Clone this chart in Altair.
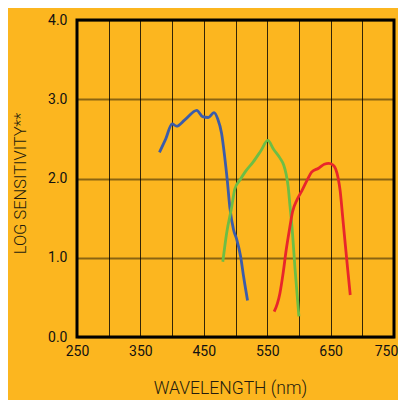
import altair as alt
import pandas as pd

blue_x = [380, 390, 400, 407, 420, 439, 448, 457, 466, 472, 478, 483, 487, 491, 497, 502, 508, 513, 519]
blue_y = [2.33, 2.50, 2.69, 2.66, 2.74, 2.86, 2.78, 2.77, 2.83, 2.75, 2.57, 2.27, 1.98, 1.64, 1.35, 1.23, 1.02, 0.75, 0.46]

green_x = [480, 486, 494, 499, 507, 515, 528, 540, 551, 560, 570, 576, 580, 583, 586, 589, 594, 600]
green_y = [0.95, 1.31, 1.64, 1.87, 1.98, 2.08, 2.21, 2.35, 2.48, 2.37, 2.26, 2.17, 2.05, 1.90, 1.65, 1.40, 0.85, 0.26]

red_x = [561, 566, 570, 575, 580, 585, 590, 597, 605, 613, 620, 631, 640, 647, 654, 658, 662, 665, 669, 673, 677, 681]
red_y = [0.32, 0.42, 0.55, 0.80, 1.10, 1.35, 1.58, 1.73, 1.85, 1.98, 2.08, 2.13, 2.18, 2.19, 2.17, 2.12, 2.00, 1.85, 1.52, 1.18, 0.85, 0.53]

series_names = ["blue", "green", "red"]
series_colors = ["#3B5CAA", "#6DBE45", "#E8262B"]

x_ticks = [250, 300, 350, 400, 450, 500, 550, 600, 650, 700, 750]
y_ticks = [0, 1, 2, 3, 4]

rows = []
for name, xs, ys in zip(series_names, [blue_x, green_x, red_x], [blue_y, green_y, red_y]):
    for i, (xv, yv) in enumerate(zip(xs, ys)):
        rows.append({"series": name, "wl": xv, "val": yv, "order": i})
df = pd.DataFrame(rows)

bg = "#FCB61F"
txt = "#241c0e"

chart = alt.Chart(df).mark_line(strokeWidth=2.8, interpolate="monotone").encode(
    x=alt.X("wl:Q", scale=alt.Scale(domain=[250, 750], nice=False, zero=False),
            axis=alt.Axis(values=x_ticks, title="WAVELENGTH (nm)",
                          labelExpr="datum.value % 100 == 50 ? datum.label : ''",
                          labelFlush=False, labelOverlap=False,
                          grid=True, gridColor="#000000", gridOpacity=0.8, gridWidth=1,
                          domain=False, ticks=False, labelPadding=7,
                          labelFontSize=14, labelColor="#111111", labelFont="Roboto",
                          labelOffset={"condition": {"test": "datum.value == 750", "value": -8}, "value": 0},
                          titleFont="Roboto", titleFontWeight=300, titleFontSize=17.5,
                          titleColor=txt, titlePadding=21, titleX=153)),
    y=alt.Y("val:Q", scale=alt.Scale(domain=[0, 4], nice=False),
            axis=alt.Axis(values=y_ticks, format=".1f", title="LOG SENSITIVITY**",
                          grid=True, gridColor="#000000", gridOpacity=0.45, gridWidth=2,
                          domain=False, ticks=False, labelPadding=10,
                          labelFontSize=14, labelColor="#111111", labelFont="Roboto",
                          titleFont="Roboto", titleFontWeight=300, titleFontSize=16.5,
                          titleColor=txt, titlePadding=19, titleY=163)),
    color=alt.Color("series:N", scale=alt.Scale(domain=series_names, range=series_colors), legend=None),
    order="order:Q",
).properties(
    width=317, height=317,
    background=bg,
    padding={"left": 69, "top": 12, "right": 4, "bottom": 63},
    autosize=alt.AutoSizeParams(type="none"),
).configure_view(stroke="#000000", strokeWidth=3, fill=bg)

chart.save("out.html", embed_options={"renderer": "svg", "actions": False})
